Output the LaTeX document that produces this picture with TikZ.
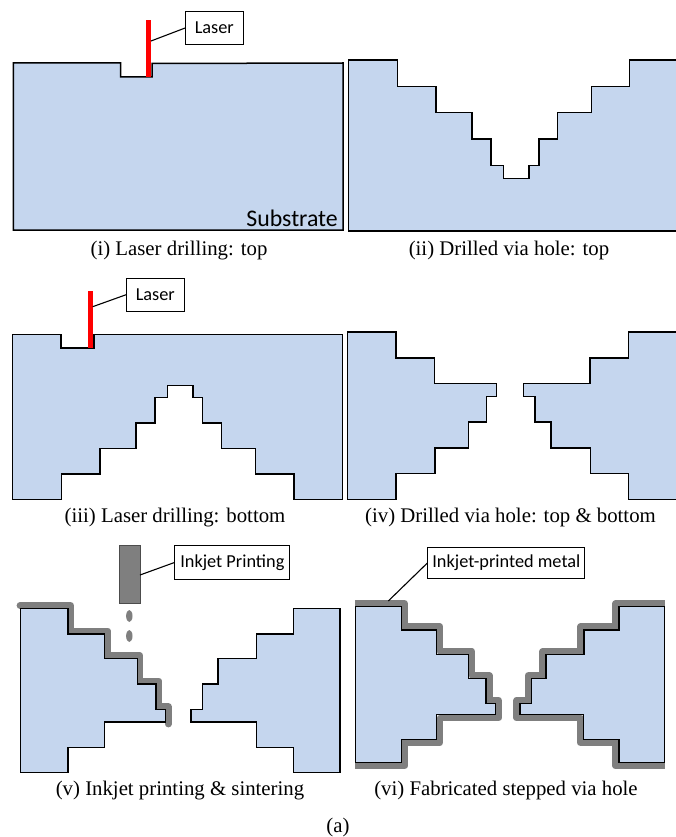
\documentclass[tikz,border=0pt]{standalone}
\usepackage{fontspec}
\setmainfont{Liberation Serif}
\newfontfamily\calib{Carlito}
\definecolor{subst}{HTML}{C5D6EE}
\definecolor{metal}{HTML}{7F7F7F}
\tikzset{
  solid part/.style={fill=subst,draw=black,line width=1.5pt,line join=miter},
  edge only/.style={draw=black,line width=1.5pt,line join=miter},
  fill only/.style={fill=subst,draw=none},
  metal line/.style={draw=metal,line width=6.8pt,line join=round},
  laser bar/.style={fill=red,draw=none},
  callout/.style={draw=black,fill=white,line width=1.1pt,font=\calib\fontsize{18.3}{20}\selectfont,inner sep=0pt,anchor=north west},
  leader/.style={draw=black,line width=1.1pt},
  caption/.style={font=\fontsize{20.8}{24}\selectfont,anchor=base,inner sep=0pt},
}
\begin{document}
\begin{tikzpicture}[x=1pt,y=-1pt]
\useasboundingbox (0,0) rectangle (676,837);

% (i)
\path[solid part] (13.3,63) -- (120.5,63) -- (120.5,77) -- (152,77) -- (152,63.5) -- (343,63) -- (343,230) -- (13.3,230) -- cycle;
\path[laser bar] (146,20) rectangle (151,77);
\coordinate (barA) at (151,41);
\node[callout,minimum width=57.5pt,minimum height=33pt] (laserA) at (185,11) {Laser};
\draw[leader] (barA) -- (laserA.west);
\node[anchor=base east,inner sep=0pt,font=\calib\fontsize{23.8}{26}\selectfont] (subA) at (338,226) {Substrate};
\node[caption] (capA) at (179,255) {(i) Laser drilling: top};

% (ii)
\path[fill only] (676,60) -- (629.7,60) -- (629.7,86.5) -- (591.7,86.5) -- (591.7,112.7) -- (557.7,112.7) -- (557.7,139) -- (539,139) -- (539,165.3) -- (529,165.3) -- (529,178.7) -- (503.5,178.7) -- (503.5,165.3) -- (491,165.3) -- (491,139) -- (472,139) -- (472,112.7) -- (436,112.7) -- (436,86.5) -- (397.5,86.5) -- (397.5,60) -- (348.5,60) -- (348.5,231) -- (676,231) -- cycle;
\path[edge only] (676,60) -- (629.7,60) -- (629.7,86.5) -- (591.7,86.5) -- (591.7,112.7) -- (557.7,112.7) -- (557.7,139) -- (539,139) -- (539,165.3) -- (529,165.3) -- (529,178.7) -- (503.5,178.7) -- (503.5,165.3) -- (491,165.3) -- (491,139) -- (472,139) -- (472,112.7) -- (436,112.7) -- (436,86.5) -- (397.5,86.5) -- (397.5,60) -- (348.5,60) -- (348.5,231) -- (676,231);
\node[caption] (capB) at (509,255) {(ii) Drilled via hole: top};

% (iii)
\path[solid part] (12.5,334.3) -- (61,334.3) -- (61,348) -- (94,348) -- (94,334.3) -- (342.5,334.3) -- (342.5,499.7) -- (294,499.7) -- (294,474) -- (255.7,474) -- (255.7,448.7) -- (221.7,448.7) -- (221.7,423) -- (202.7,423) -- (202.7,397.7) -- (193,397.7) -- (193,385.3) -- (167.7,385.3) -- (167.7,397.7) -- (155,397.7) -- (155,423) -- (136,423) -- (136,448.7) -- (100,448.7) -- (100,474) -- (61.3,474) -- (61.3,499.7) -- (12.5,499.7) -- cycle;
\path[laser bar] (88,291) rectangle (92.7,348);
\coordinate (barB) at (92.7,306.7);
\node[callout,minimum width=57.5pt,minimum height=33pt] (laserB) at (126,277.7) {Laser};
\draw[leader] (barB) -- (laserB.west);
\node[caption] (capC) at (175,522.7) {(iii) Laser drilling: bottom};

% (iv)
\path[solid part] (347.3,332) -- (396,332) -- (396,358) -- (434.7,358) -- (434.7,383.3) -- (496.7,383.3) -- (496.7,396.7) -- (486.7,396.7) -- (486.7,422) -- (468.7,422) -- (468.7,448) -- (435,448) -- (435,473.7) -- (396,473.7) -- (396,499.3) -- (347.3,499.3) -- cycle;
\path[fill only] (676,332) -- (628.7,332) -- (628.7,358) -- (590,358) -- (590,383.3) -- (523.3,383.3) -- (523.3,396.7) -- (535,396.7) -- (535,422) -- (551,422) -- (551,448) -- (590.7,448) -- (590.7,473.7) -- (628.7,473.7) -- (628.7,499.3) -- (676,499.3) -- cycle;
\path[edge only] (676,332) -- (628.7,332) -- (628.7,358) -- (590,358) -- (590,383.3) -- (523.3,383.3) -- (523.3,396.7) -- (535,396.7) -- (535,422) -- (551,422) -- (551,448) -- (590.7,448) -- (590.7,473.7) -- (628.7,473.7) -- (628.7,499.3) -- (676,499.3);
\node[caption] (capD) at (510.5,522.7) {(iv) Drilled via hole: top \& bottom};

% (v)
\path[metal line,line cap=round] (20,605.5) -- (70.7,605.5) -- (70.7,631) -- (107.5,631) -- (107.5,655.8) -- (140,655.8) -- (140,681) -- (158.8,681) -- (158.8,706.8) -- (168.2,706.8) -- (168.2,724);
\path[solid part] (20.3,608.3) -- (68,608.3) -- (68,634) -- (104.7,634) -- (104.7,658.7) -- (137.3,658.7) -- (137.3,684) -- (156,684) -- (156,709.7) -- (165.3,709.7) -- (165.3,722) -- (104.7,722) -- (104.7,747.3) -- (68,747.3) -- (68,772.3) -- (20.3,772.3) -- cycle;
\path[solid part] (340,608.3) -- (293.7,608.3) -- (293.7,634) -- (256.7,634) -- (256.7,658.7) -- (218,658.7) -- (218,684) -- (202.7,684) -- (202.7,709.7) -- (191,709.7) -- (191,722) -- (256.7,722) -- (256.7,747.3) -- (293.7,747.3) -- (293.7,772.3) -- (340,772.3) -- cycle;
\node[draw=black!70,fill=metal,line width=0.6pt,minimum width=21pt,minimum height=58pt,inner sep=0pt] (head) at (129.3,574) {};
\fill[metal] (129.3,616) ellipse [x radius=3.2pt,y radius=6pt];
\fill[metal] (129.3,636) ellipse [x radius=3.2pt,y radius=6pt];
\node[callout,minimum width=115pt,minimum height=33.4pt] (inkA) at (174.3,545.3) {Inkjet Printing};
\coordinate (headPt) at (140,575);
\draw[leader] (headPt) -- (inkA.west);
\node[caption] (capE) at (180,795) {(v) Inkjet printing \& sintering};

% (vi)
\path[metal line,line cap=butt] (355.3,603.5) -- (404.5,603.5) -- (404.5,626.8) -- (439.9,626.8) -- (439.9,651.5) -- (471.9,651.5) -- (471.9,675.5) -- (489.2,675.5) -- (489.2,700.1) -- (498.5,700.1) -- (498.5,717.9) -- (439.9,717.9) -- (439.9,742.5) -- (404.5,742.5) -- (404.5,765.9) -- (355.3,765.9);
\path[metal line,line cap=butt] (665,603.5) -- (615.8,603.5) -- (615.8,626.8) -- (580.8,626.8) -- (580.8,651.5) -- (542.8,651.5) -- (542.8,675.5) -- (528.1,675.5) -- (528.1,700.1) -- (516.8,700.1) -- (516.8,717.9) -- (580.1,717.9) -- (580.1,742.5) -- (615.8,742.5) -- (615.8,765.9) -- (665,765.9);
\path[solid part] (355.3,606.7) -- (401.3,606.7) -- (401.3,630) -- (436.7,630) -- (436.7,654.7) -- (468.7,654.7) -- (468.7,678.7) -- (486,678.7) -- (486,703.3) -- (495.3,703.3) -- (495.3,714.7) -- (436.7,714.7) -- (436.7,739.3) -- (401.3,739.3) -- (401.3,762.7) -- (355.3,762.7) -- cycle;
\path[solid part] (664.7,606.7) -- (619,606.7) -- (619,630) -- (584,630) -- (584,654.7) -- (546,654.7) -- (546,678.7) -- (531.3,678.7) -- (531.3,703.3) -- (520,703.3) -- (520,714.7) -- (583.3,714.7) -- (583.3,739.3) -- (619,739.3) -- (619,762.7) -- (664.7,762.7) -- cycle;
\node[callout,minimum width=157pt,minimum height=31.6pt] (inkB) at (427.3,546.7) {Inkjet-printed metal};
\coordinate (metalPt) at (388.3,601);
\draw[leader] (metalPt) -- (inkB.west);
\node[caption] (capF) at (506,795) {(vi) Fabricated stepped via hole};

\node[caption] (capG) at (338,832) {(a)};
\end{tikzpicture}
\end{document}
